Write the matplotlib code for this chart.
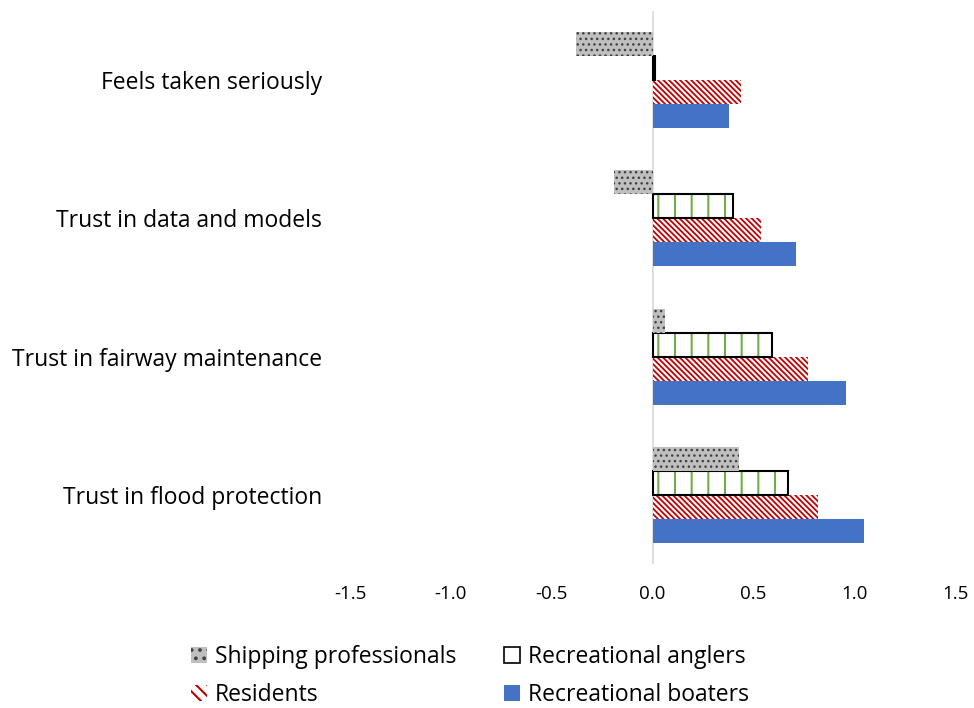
import matplotlib
matplotlib.use("Agg")
import matplotlib.pyplot as plt
from matplotlib.patches import Patch
import numpy as np

plt.rcParams['font.family'] = ['Open Sans', 'DejaVu Sans']

categories = ["Trust in flood protection", "Trust in fairway maintenance",
              "Trust in data and models", "Feels taken seriously"]
series_names = ["Recreational boaters", "Residents", "Recreational anglers", "Shipping professionals"]
boaters = [1.05, 0.96, 0.71, 0.38]
residents = [0.82, 0.77, 0.54, 0.44]
anglers = [0.67, 0.595, 0.40, 0.01]
shipping = [0.43, 0.06, -0.19, -0.38]
x_ticks = [-1.5, -1.0, -0.5, 0.0, 0.5, 1.0, 1.5]

fig = plt.figure(figsize=(9.74, 7.08), dpi=100)
ax = fig.add_axes([350/974, 1-564/708, 605/974, 553/708])

y = np.arange(len(categories))
h = 0.174
offs = [-1.5*h, -0.5*h, 0.5*h, 1.5*h]

blue = '#4472C4'
red = '#C00000'
green = '#70AD47'
gray = '#BFBFBF'

red_hatch = '\\' * 6
dot_hatch = '...'
green_hatch = '|'

ax.barh(y + offs[0], boaters, h, color=blue, linewidth=0)
plt.rcParams['hatch.linewidth'] = 1.3
ax.barh(y + offs[1], residents, h, color='white', edgecolor=red, hatch=red_hatch, linewidth=0)
plt.rcParams['hatch.linewidth'] = 1.5
ax.barh(y + offs[2], anglers, h, color='white', edgecolor=green, hatch=green_hatch, linewidth=0)
ax.barh(y + offs[2], anglers, h, fill=False, edgecolor='black', linewidth=1.5)
plt.rcParams['hatch.linewidth'] = 1.0
ax.barh(y + offs[3], shipping, h, color=gray, edgecolor='#404040', hatch=dot_hatch, linewidth=0)

ax.axvline(0, color='#D9D9D9', linewidth=1.2, zorder=0)
ax.set_xlim(-1.5, 1.5)
ax.set_ylim(-0.5, len(categories) - 0.5)
ax.set_xticks(x_ticks)
ax.set_xticklabels([f"{v:.1f}" for v in x_ticks], fontsize=13.5)
ax.set_yticks(y)
ax.set_yticklabels(categories, fontsize=16.5)
ax.tick_params(axis='y', length=0, pad=20)
ax.tick_params(axis='x', length=0, pad=15)
for s in ax.spines.values():
    s.set_visible(False)

plt.rcParams['hatch.linewidth'] = 1.5
handles = [
    Patch(facecolor=gray, edgecolor='#404040', hatch='..', linewidth=0),
    Patch(facecolor='white', edgecolor=red, hatch='\\\\\\', linewidth=0),
    Patch(facecolor='white', edgecolor='black', linewidth=1.2),
    Patch(facecolor=blue, linewidth=0),
]
labels = ["Shipping professionals", "Residents", "Recreational anglers", "Recreational boaters"]
fig.legend(handles, labels, ncol=2, loc='center', bbox_to_anchor=(470/974, 1-676/708),
           frameon=False, fontsize=16.5, handlelength=0.7, handleheight=0.7,
           handletextpad=0.35, columnspacing=2.1, labelspacing=0.62)

fig.savefig("out.png", dpi=100)
